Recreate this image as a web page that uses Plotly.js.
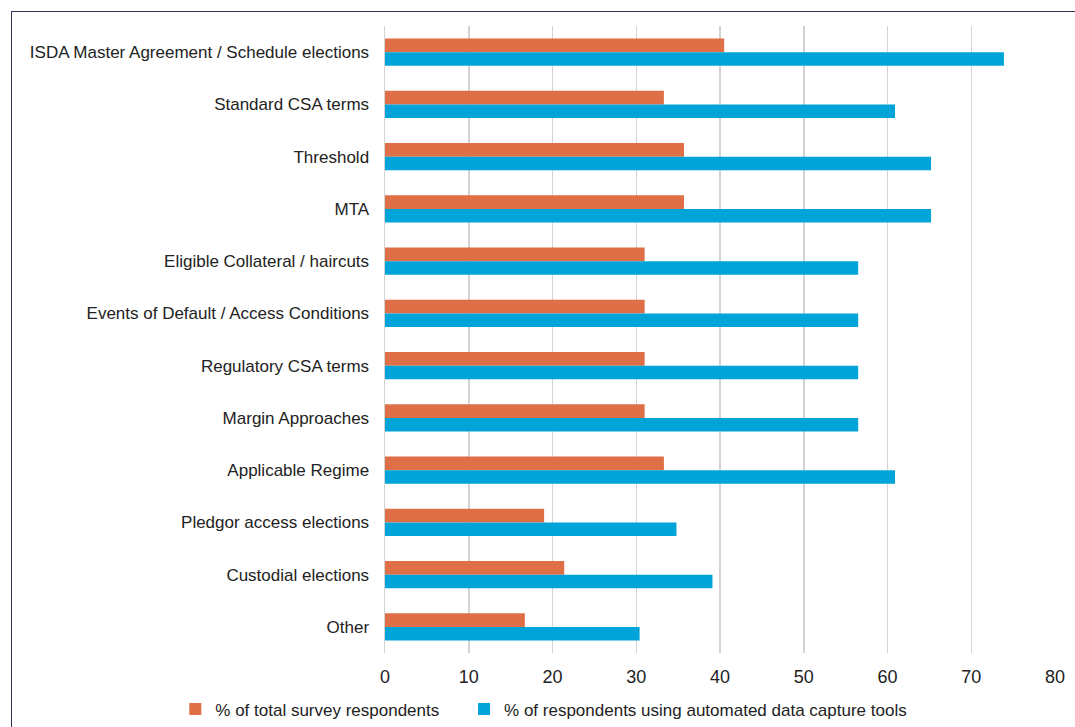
<!DOCTYPE html>
<html>
<head>
<meta charset="utf-8">
<script src="https://cdn.plot.ly/plotly-3.0.1.min.js"></script>
<style>
  html, body { margin: 0; padding: 0; background: #ffffff; overflow: hidden; }
  #wrap { position: relative; width: 1075px; height: 727px; overflow: hidden; }
  #frame { position: absolute; left: 11px; top: 11px; width: 1100px; height: 760px;
           border-top: 1.5px solid #2d3254; border-left: 1.5px solid #2d3254; box-sizing: border-box; pointer-events: none; }
  #chart { position: absolute; left: 0; top: 0; width: 1075px; height: 727px; }
</style>
</head>
<body>
<div id="wrap">
  <div id="chart"></div>
  <div id="frame"></div>
</div>
<script>
// Contract elements captured, listed top to bottom
const categories = [
  "ISDA Master Agreement / Schedule elections",
  "Standard CSA terms",
  "Threshold",
  "MTA",
  "Eligible Collateral / haircuts",
  "Events of Default / Access Conditions",
  "Regulatory CSA terms",
  "Margin Approaches",
  "Applicable Regime",
  "Pledgor access elections",
  "Custodial elections",
  "Other"
];

// % of total survey respondents
const totalRespondents = [40.5, 33.3, 35.7, 35.7, 31.0, 31.0, 31.0, 31.0, 33.3, 19.0, 21.4, 16.7];

// % of respondents using automated data capture tools
const automatedUsers = [73.9, 60.9, 65.2, 65.2, 56.5, 56.5, 56.5, 56.5, 60.9, 34.8, 39.1, 30.4];

const seriesNames = [
  "% of total survey respondents",
  "% of respondents using automated data capture tools"
];

const xTicks = [0, 10, 20, 30, 40, 50, 60, 70, 80];

const FONT = "'Liberation Sans', Arial, sans-serif";

const traces = [
  {
    type: "bar", orientation: "h",
    name: seriesNames[0],
    y: categories, x: totalRespondents,
    marker: { color: "#df6f47" },
    legend: "legend",
    hoverinfo: "x+y"
  },
  {
    type: "bar", orientation: "h",
    name: seriesNames[1],
    y: categories, x: automatedUsers,
    marker: { color: "#00a4d9" },
    legend: "legend2",
    hoverinfo: "x+y"
  }
];

// one legend box per series so each entry can be placed on its own
const legendStyle = (x) => ({
  orientation: "h",
  x: x, xanchor: "left",
  y: -0.09, yanchor: "middle",
  font: { family: FONT, size: 17, color: "#222222" },
  itemwidth: 30,
  bgcolor: "rgba(0,0,0,0)"
});

const layout = {
  width: 1075, height: 727,
  paper_bgcolor: "rgba(0,0,0,0)",
  plot_bgcolor: "#ffffff",
  margin: { l: 385, r: 20, t: 26, b: 74, autoexpand: false },
  barmode: "group",
  bargap: 0.475,
  bargroupgap: 0,
  font: { family: FONT, size: 17, color: "#222222" },
  xaxis: {
    range: [0, 80],
    tickvals: xTicks,
    ticktext: xTicks.map(String),
    showgrid: true, gridcolor: "#d3d3d3", gridwidth: 1.5,
    zeroline: false, showline: false,
    ticks: "outside", ticklen: 7, tickcolor: "rgba(0,0,0,0)",
    tickfont: { family: FONT, size: 18, color: "#222222" },
    automargin: false,
    fixedrange: true
  },
  yaxis: {
    autorange: "reversed",
    type: "category",
    showgrid: false, zeroline: false,
    showline: true, linecolor: "#d3d3d3", linewidth: 1.5,
    ticks: "outside", ticklen: 11, tickcolor: "rgba(0,0,0,0)",
    tickfont: { family: FONT, size: 17, color: "#222222" },
    automargin: false,
    fixedrange: true
  },
  showlegend: true,
  legend: legendStyle(-0.313),
  legend2: legendStyle(0.118)
};

Plotly.newPlot("chart", traces, layout, { displayModeBar: false, staticPlot: true });
</script>
</body>
</html>
